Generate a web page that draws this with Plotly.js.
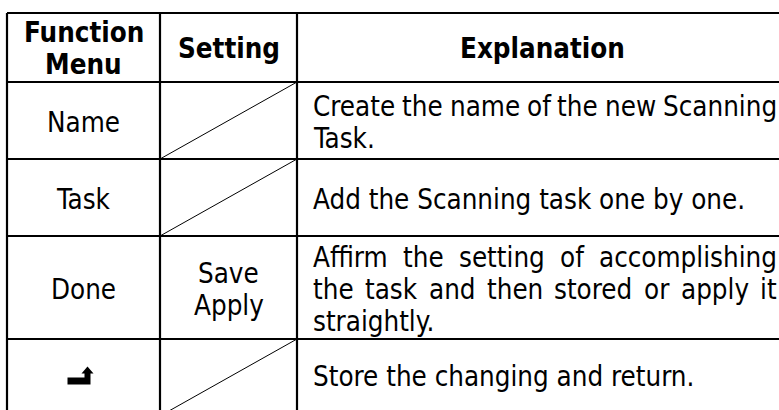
<!DOCTYPE html>
<html><head><meta charset="utf-8">
<script src="https://cdn.plot.ly/plotly-3.0.1.min.js"></script>
<style>html,body{margin:0;padding:0;background:#fff}</style></head>
<body><div id="chart" style="width:779px;height:410px"></div>
<script>
// ---- table content ----
const headers = [["Function", "Menu"], ["Setting"], ["Explanation"]];
const functionMenu = ["Name", "Task", "Done", "\u21B5"]; // last one drawn as return icon
const settings = [null, null, ["Save", "Apply"], null];   // null = crossed-out cell
const explanations = [
  ["Create the name of the new Scanning", "Task."],
  ["Add the Scanning task one by one."],
  ["Affirm the setting of accomplishing", "the task and then stored or apply it", "straightly."],
  ["Store the changing and return."]
];

// ---- layout constants ----
const W = 779, H = 410;
const FONT = "'DejaVu Sans Condensed', 'DejaVu Sans', sans-serif";
const FS = 27.5;
const colX = [7, 160, 297, 787];
const top0 = 13, headerH = 69;
const rowH = [77, 77, 103, 77];
const lineGap = 32;
const textLeft = 312, textRight = 776;

const canvas = document.createElement('canvas');
const ctx = canvas.getContext('2d');
ctx.font = FS + "px " + FONT;
const measure = s => ctx.measureText(s).width;

const shapes = [], annotations = [];
const ann = (x, y, text, xanchor, bold) => annotations.push({
  x: x, y: y, xref: 'x', yref: 'y', text: bold ? '<b>' + text + '</b>' : text,
  showarrow: false, xanchor: xanchor, yanchor: 'middle', borderpad: 0,
  font: {family: FONT, size: FS, color: '#000'}
});
const line = (x0, y0, x1, y1, w) => shapes.push({
  type: 'line', xref: 'x', yref: 'y', x0: x0, y0: y0, x1: x1, y1: y1,
  line: {color: '#000', width: w}
});
const linesAt = (center, n) => Array.from({length: n}, (_, i) => center + (i - (n - 1) / 2) * lineGap);

// row boundaries
const rowTops = [top0, top0 + headerH];
rowH.forEach((h, i) => rowTops.push(rowTops[i + 1] + h));

// grid lines
rowTops.forEach(y => line(colX[0], y, 800, y, 2.2));
colX.slice(0, 3).forEach(x => line(x, top0, x, rowTops[rowTops.length - 1], 2.2));

// header
headers.forEach((lines, c) => {
  const cx = (colX[c] + colX[c + 1]) / 2;
  const cy = (rowTops[0] + rowTops[1]) / 2;
  linesAt(cy, lines.length).forEach((y, i) => ann(cx, y, lines[i], 'center', true));
});

// body
functionMenu.forEach((fm, r) => {
  const yt = rowTops[r + 1], yb = rowTops[r + 2];
  const cy = (yt + yb) / 2 + 1 - (r === 3 ? 3 : 0);
  const cx0 = (colX[0] + colX[1]) / 2, cx1 = (colX[1] + colX[2]) / 2;
  if (fm === "\u21B5") {
    // return icon
    shapes.push({type: 'path', xref: 'x', yref: 'y', fillcolor: '#000', line: {width: 0},
      path: `M${cx0-16},${cy+2} L${cx0+1},${cy+2} L${cx0+1},${cy-2} L${cx0-2},${cy-2} L${cx0+4},${cy-9} L${cx0+10},${cy-2} L${cx0+7},${cy-2} L${cx0+7},${cy+9} L${cx0-16},${cy+9} Z`});
  } else {
    ann(cx0, cy, fm, 'center', false);
  }
  const st = settings[r];
  if (st === null) {
    line(colX[1], yb, colX[2], yt, 1);
  } else {
    linesAt(cy, st.length).forEach((y, i) => ann(cx1, y, st[i], 'center', false));
  }
  const ex = explanations[r];
  linesAt(cy, ex.length).forEach((y, i) => {
    const txt = ex[i];
    const justify = i < ex.length - 1;
    if (!justify) { ann(textLeft, y, txt, 'left', false); return; }
    const words = txt.split(' ');
    const widths = words.map(measure);
    const total = widths.reduce((a, b) => a + b, 0);
    const gap = (textRight - textLeft - total) / (words.length - 1);
    let x = textLeft;
    words.forEach((w, k) => { ann(x, y, w, 'left', false); x += widths[k] + gap; });
  });
});

Plotly.newPlot('chart', [], {
  width: W, height: H, margin: {l: 0, r: 0, t: 0, b: 0},
  paper_bgcolor: '#fff', plot_bgcolor: '#fff', showlegend: false,
  xaxis: {range: [0, W], visible: false, fixedrange: true},
  yaxis: {range: [H, 0], visible: false, fixedrange: true},
  shapes: shapes, annotations: annotations
}, {staticPlot: true, displayModeBar: false});
</script></body></html>
